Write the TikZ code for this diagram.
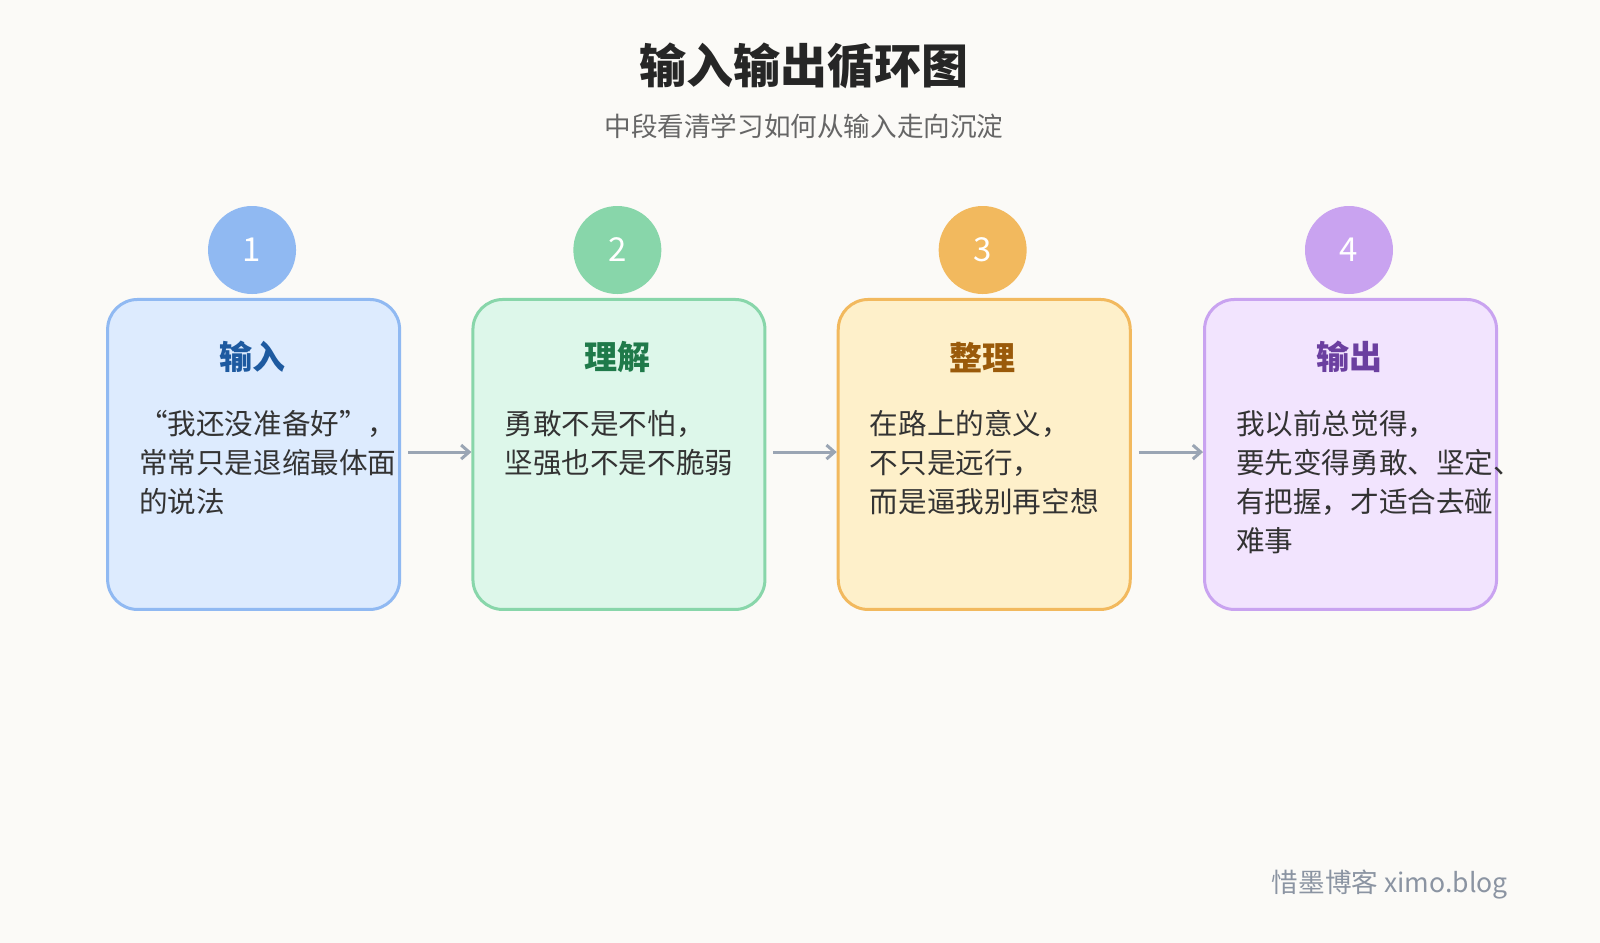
\documentclass[tikz,border=0pt]{standalone}
\usepackage{fontspec}
\setmainfont{Noto Sans CJK SC}
\usetikzlibrary{arrows.meta}
\definecolor{bg}{HTML}{FBFAF7}
\definecolor{fA}{HTML}{DDEBFE}\definecolor{bA}{HTML}{90B9F2}\definecolor{tA}{HTML}{1E5AA0}
\definecolor{fB}{HTML}{DDF7EA}\definecolor{bB}{HTML}{88D6AA}\definecolor{tB}{HTML}{1F7A4A}
\definecolor{fC}{HTML}{FEF0CA}\definecolor{bC}{HTML}{F2B95E}\definecolor{tC}{HTML}{9A5A0A}
\definecolor{fD}{HTML}{F2E4FE}\definecolor{bD}{HTML}{C9A3F0}\definecolor{tD}{HTML}{6B3FA0}
\definecolor{arr}{HTML}{9AA5B4}
\begin{document}
\begin{tikzpicture}[x=0.5102pt,y=-0.5102pt,
  card/.style={draw,line width=1.5pt,rounded corners=15pt,minimum width=146pt,minimum height=155pt,anchor=north west,inner sep=0pt},
  badge/.style={circle,minimum size=44pt,inner sep=0pt,text=white,font=\fontsize{16.5}{16.5}\selectfont},
  ttl/.style={font=\fontsize{16.5}{16.5}\selectfont\bfseries},
  body/.style={anchor=north west,align=left,inner sep=0pt,text=black!80,font=\fontsize{14.3}{19.4}\selectfont},
  link/.style={draw=arr,line width=1.5pt,-{Straight Barb[length=4pt,width=7pt]}}]
\fill[bg] (0,0) rectangle (1568,924);
\useasboundingbox (0,0) rectangle (1568,924);
\node[font=\fontsize{23.5}{23.5}\selectfont\bfseries,text=black!85] (title) at (788,65) {输入输出循环图};
\node[font=\fontsize{13.3}{13.3}\selectfont,text=black!60] (sub) at (788,124) {中段看清学习如何从输入走向沉淀};
\foreach \i/\x/\n/\t/\b in {A/104/1/输入/{“我还没准备好”，\\常常只是退缩最体面\\的说法},
  B/462/2/理解/{勇敢不是不怕，\\坚强也不是不脆弱},
  C/820/3/整理/{在路上的意义，\\不只是远行，\\而是逼我别再空想},
  D/1179/4/输出/{我以前总觉得，\\要先变得勇敢、坚定、\\有把握，才适合去碰\\难事}}{
  \node[card,draw=b\i,fill=f\i] (card\i) at (\x,292) {};
  \node[badge,fill=b\i] (badge\i) at (\x+143,245) {\n};
  \node[ttl,text=t\i] (ttl\i) at (\x+143,350) {\t};
  \node[body] (body\i) at (\x+32,402) {\b};
}
\coordinate (sA) at (400,443);\coordinate (sB) at (758,443);\coordinate (sC) at (1116,443);
\draw[link] (sA) -- (cardB.west |- sA);
\draw[link] (sB) -- (cardC.west |- sB);
\draw[link] (sC) -- (cardD.west |- sC);
\node[font=\fontsize{13.3}{13.3}\selectfont,text=arr!90!black] (wm) at (1362,867) {惜墨博客 ximo.blog};
\end{tikzpicture}
\end{document}
